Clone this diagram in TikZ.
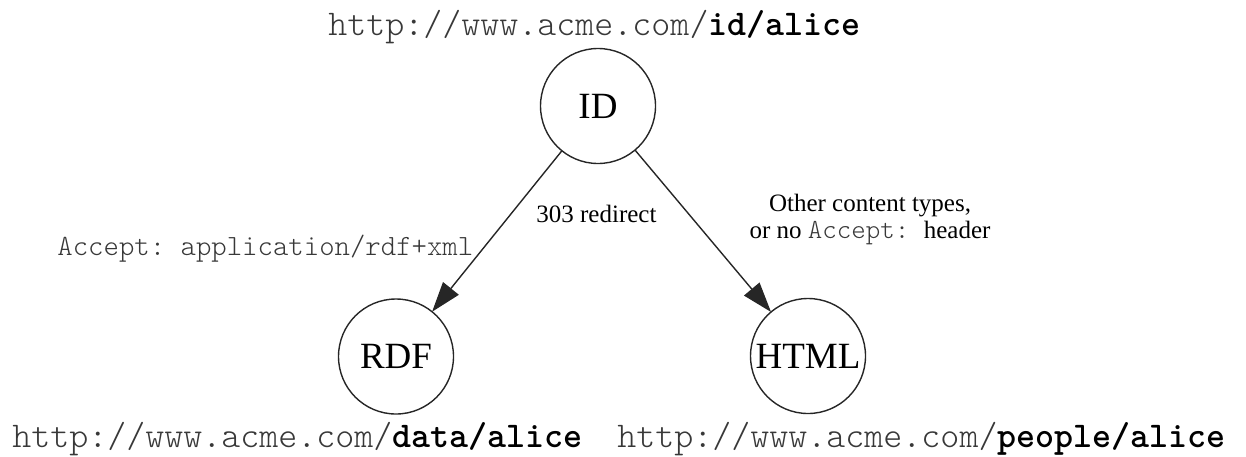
\documentclass[tikz,border=0pt]{standalone}
\usepackage{fontspec}
\setmainfont{Liberation Serif}
\setmonofont{Latin Modern Mono Light}
\usetikzlibrary{arrows.meta}
\begin{document}
\begin{tikzpicture}[x=0.5pt,y=-0.5pt,
  state/.style={circle,draw=black!85,line width=0.7pt,minimum size=57.5pt,inner sep=0pt,outer sep=0pt,font=\fontsize{18.5}{20}\selectfont},
  url/.style={anchor=base west,inner sep=0pt,font=\fontsize{18.1}{20}\selectfont\ttfamily,text=black!78},
  lbl/.style={inner sep=0pt,font=\fontsize{12.5}{13.5}\selectfont},
  monolbl/.style={anchor=base west,inner sep=0pt,font=\fontsize{14.67}{16}\selectfont\ttfamily,text=black!78},
  link/.style={-{Triangle[length=15pt,width=10pt]},line width=0.7pt,draw=black!85}]
\useasboundingbox (0,0) rectangle (1246,456);
\node[state] (id) at (598,106) {ID};
\node[state] (rdf) at (396,356.5) {RDF};
\node[state] (html) at (808,356) {HTML};
\node[url] (urlid) at (328,35) {http://www.acme.com/\textcolor{black}{\bfseries id/alice}};
\node[url] (urldata) at (12,447) {http://www.acme.com/\textcolor{black}{\bfseries data/alice}};
\node[url] (urlpeople) at (617,447) {http://www.acme.com/\textcolor{black}{\bfseries people/alice}};
\draw[link] (id) -- (rdf);
\draw[link] (id) -- (html);
\node[lbl,anchor=base west] (redirect) at (536,222) {303 redirect};
\node[monolbl] (accept) at (57,255) {Accept: application/rdf+xml};
\node[lbl,anchor=base,align=center] (other) at (870,238) {Other content types,\\or no {\fontsize{13.8}{13.5}\selectfont\ttfamily\color{black!78}Accept: }header};
\end{tikzpicture}
\end{document}
